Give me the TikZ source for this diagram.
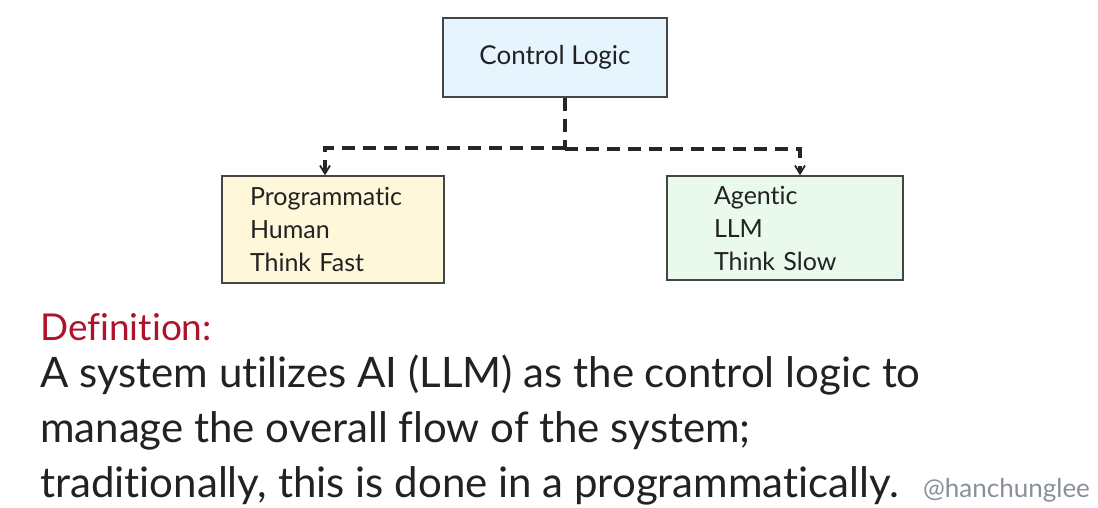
\documentclass[tikz,border=0pt]{standalone}
\usepackage{fontspec}
\setmainfont{Lato}[Ligatures={NoCommon}]
\usetikzlibrary{arrows.meta,positioning,calc}
\definecolor{boxline}{HTML}{454545}
\definecolor{bluefill}{HTML}{E6F4FD}
\definecolor{yellowfill}{HTML}{FEF7DA}
\definecolor{greenfill}{HTML}{E9F9EC}
\definecolor{defred}{HTML}{B0122C}
\definecolor{txt}{HTML}{222222}
\definecolor{wmgray}{HTML}{8A9098}
\begin{document}
\begin{tikzpicture}[x=1pt,y=-1pt,
  box/.style={draw=boxline,line width=1.5pt,rectangle,inner ysep=0pt,text=txt,
    font=\fontsize{25}{33}\selectfont},
  conn/.style={draw=black!85,line width=3.2pt,dash pattern=on 13pt off 8pt,
    -{Straight Barb[length=8pt,width=10pt,line width=1.8pt]}},
  conn0/.style={draw=black!85,line width=3.2pt,dash pattern=on 13pt off 8pt}]
\useasboundingbox (0,0) rectangle (1098,508);
\fill[white] (0,0) rectangle (1098,508);
\node[box,fill=bluefill,minimum width=224pt,minimum height=79pt,font=\fontsize{26}{33}\selectfont] (ctrl) at (555,57.5) {Control Logic};
\node[box,fill=yellowfill,minimum height=107pt,inner xsep=28pt,text width=166pt,align=left] (prog) at (333,229.5) {Programmatic\\Human\\Think Fast};
\node[box,fill=greenfill,minimum height=104pt,inner xsep=47pt,text width=142pt,align=left] (agent) at (785,228) {Agentic\\LLM\\Think Slow};
\coordinate (split) at (565,148);
\draw[conn0] (ctrl.south -| split) -- (split);
\draw[conn] (split) -| ([xshift=-8pt]prog.north);
\draw[conn] ([yshift=-1pt]split) -| ([xshift=15pt]agent.north);
\node[anchor=base west,inner sep=0pt,text=defred,font=\fontsize{37}{40}\selectfont] (def) at (40,340) {Definition:};
\node[anchor=base west,inner sep=0pt,text=txt,align=left,font=\fontsize{42}{55}\selectfont] (body) at (40,497) {A system utilizes AI (LLM) as the control logic to\\manage the overall flow of the system;\\traditionally, this is done in a programmatically.};
\node[anchor=base west,inner sep=0pt,text=wmgray,font=\fontsize{26}{28}\selectfont] (wm) at (923,497) {@hanchunglee};
\end{tikzpicture}
\end{document}
